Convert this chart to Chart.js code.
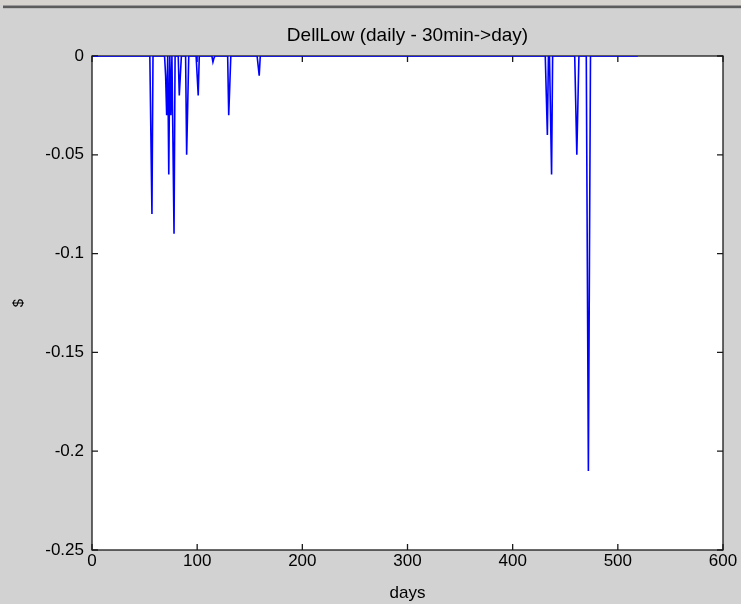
<!DOCTYPE html>
<html>
<head>
<meta charset="utf-8">
<title>DellLow</title>
<script src="https://cdn.jsdelivr.net/npm/chart.js@4.4.1/dist/chart.umd.min.js"></script>
<style>
  html, body { margin: 0; padding: 0; background: #d2d2d2; }
  #wrap { width: 741px; height: 604px; }
</style>
</head>
<body>
<div id="wrap"><canvas id="lowChart" width="741" height="604"></canvas></div>
<script>
/* ================== DATA ================== */
const LAST_DAY = 519;

// days where the low dropped below zero, and by how much ($)
const spikeDays = [56, 57, 70, 71, 73, 75, 77, 78, 83, 84, 90, 91, 100, 101,
                   115, 116, 130, 131, 158, 159,
                   432, 433, 436, 437, 460, 461, 462, 471, 472, 473];
const spikeLows = [-0.04, -0.08, -0.01, -0.03, -0.06, -0.03, -0.045, -0.09, -0.02, -0.01, -0.05, -0.025, -0.01, -0.02,
                   -0.003, -0.001, -0.03, -0.015, -0.005, -0.01,
                   -0.02, -0.04, -0.03, -0.06, -0.025, -0.05, -0.025, -0.105, -0.21, -0.105];

const xTicks = [0, 100, 200, 300, 400, 500, 600];
const yTicks = [0, -0.05, -0.1, -0.15, -0.2, -0.25];
const yTickLabels = ["0", "-0.05", "-0.1", "-0.15", "-0.2", "-0.25"];

const FONT = '"Liberation Sans", Arial, Helvetica, sans-serif';

/* ================== SERIES ================== */
function buildSeries() {
  const lows = {};
  spikeDays.forEach((d, i) => { lows[d] = spikeLows[i]; });

  const points = [];
  for (let d = 1; d <= LAST_DAY; d++) {
    points.push({ x: d, y: lows[d] !== undefined ? lows[d] : 0 });
  }
  return points;
}

/* ================== FIGURE PLUGIN ================== */
// grey figure, white axes, box with inward ticks (matlab look)
const figurePlugin = {
  id: "figure",
  beforeDraw(c) {
    const { ctx, width, height, chartArea: a } = c;
    ctx.save();
    ctx.fillStyle = "#d2d2d2";
    ctx.fillRect(0, 0, width, height);

    // window frame strip along the top
    ctx.fillStyle = "#d6d3ce";
    ctx.fillRect(0, 0, width, 5);
    ctx.fillStyle = "#9a9a9a";
    ctx.fillRect(3, 5, width - 3, 1);
    ctx.fillStyle = "#5c5c5c";
    ctx.fillRect(3, 6, width - 3, 2);
    ctx.fillStyle = "#bdbdbd";
    ctx.fillRect(3, 8, width - 3, 1);

    ctx.fillStyle = "#ffffff";
    ctx.fillRect(a.left, a.top, a.right - a.left, a.bottom - a.top);
    ctx.restore();
  },
  beforeDatasetsDraw(c) {
    const { ctx, chartArea: a, scales } = c;
    const TICK = 6;
    ctx.save();
    ctx.strokeStyle = "#1a1a1a";
    ctx.lineWidth = 1.3;
    ctx.strokeRect(a.left, a.top, a.right - a.left, a.bottom - a.top);

    ctx.beginPath();
    xTicks.forEach(v => {
      const px = scales.x.getPixelForValue(v);
      ctx.moveTo(px, a.bottom); ctx.lineTo(px, a.bottom - TICK);
      ctx.moveTo(px, a.top); ctx.lineTo(px, a.top + TICK);
    });
    yTicks.forEach(v => {
      const py = scales.y.getPixelForValue(v);
      ctx.moveTo(a.left, py); ctx.lineTo(a.left + TICK, py);
      ctx.moveTo(a.right, py); ctx.lineTo(a.right - TICK, py);
    });
    ctx.stroke();
    ctx.restore();
  }
};

/* ================== CHART ================== */
const ctx = document.getElementById("lowChart");

const chart = new Chart(ctx, {
  type: "line",
  data: {
    datasets: [{
      label: "DellLow",
      data: buildSeries(),
      borderColor: "#0000ff",
      borderWidth: 1.6,
      pointRadius: 0,
      tension: 0,
      fill: false
    }]
  },
  options: {
    responsive: false,
    animation: false,
    devicePixelRatio: 1,
    layout: { padding: { left: 0, right: 18, top: 0, bottom: 0 } },
    plugins: {
      legend: { display: false },
      tooltip: { enabled: false },
      title: {
        display: true,
        text: "DellLow (daily - 30min->day)",
        fullSize: false,
        color: "#000",
        font: { family: FONT, size: 19, weight: "normal", lineHeight: 1 },
        padding: { top: 26, bottom: 11 }
      }
    },
    scales: {
      x: {
        type: "linear",
        min: 0,
        max: 600,
        afterBuildTicks: s => { s.ticks = xTicks.map(v => ({ value: v })); },
        afterFit: s => { s.height = 54; },
        grid: { display: false, drawTicks: false },
        border: { display: false },
        ticks: {
          color: "#000",
          padding: 3,
          maxRotation: 0,
          font: { family: FONT, size: 17, lineHeight: 1 }
        },
        title: {
          display: true,
          text: "days",
          color: "#000",
          font: { family: FONT, size: 17, lineHeight: 1 },
          padding: { top: 0, bottom: 2 }
        }
      },
      y: {
        type: "linear",
        min: -0.25,
        max: 0,
        afterBuildTicks: s => { s.ticks = yTicks.map(v => ({ value: v })); },
        afterFit: s => { s.width = 92; },
        grid: { display: false, drawTicks: false },
        border: { display: false },
        ticks: {
          color: "#000",
          padding: 8,
          font: { family: FONT, size: 17, lineHeight: 1 },
          callback: (v, i) => yTickLabels[i]
        },
        title: {
          display: true,
          text: "$",
          color: "#000",
          font: { family: FONT, size: 15, lineHeight: 1 },
          padding: { top: 11, bottom: 0 }
        }
      }
    }
  },
  plugins: [figurePlugin]
});
</script>
</body>
</html>
